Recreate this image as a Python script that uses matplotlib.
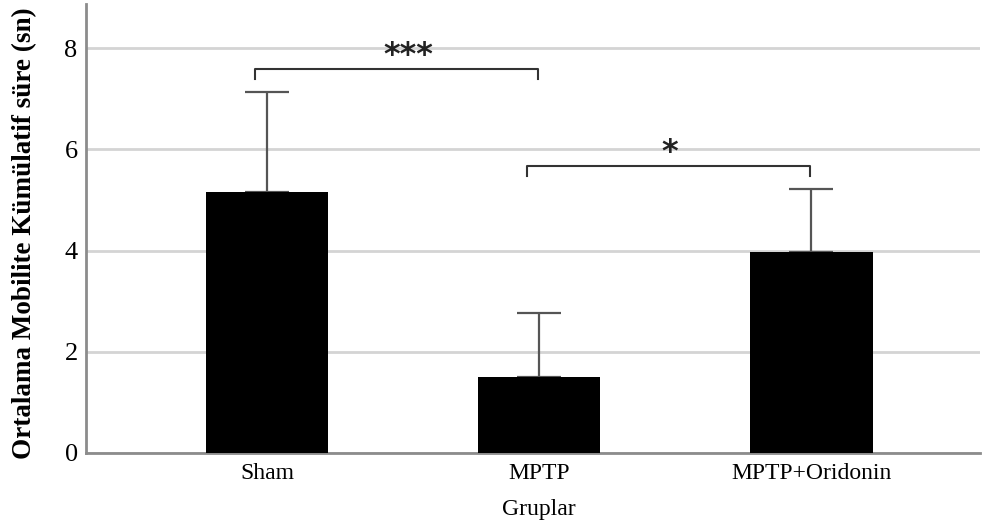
import matplotlib
matplotlib.use("Agg")
from matplotlib import pyplot as plt

groups = ["Sham", "MPTP", "MPTP+Oridonin"]
means = [5.16, 1.50, 3.97]
errors = [1.97, 1.27, 1.25]

# significance brackets: (left group, right group, height, label, label x)
brackets = [(0, 1, 7.59, "***", 0.518), (1, 2, 5.67, "*", 1.478)]

plt.rcParams['font.family'] = ['Liberation Serif', 'DejaVu Serif']

fig = plt.figure(figsize=(9.82, 5.31), dpi=100)
ax = fig.add_axes([0.0876, 0.147, 0.9104, 0.845])

x = list(range(len(groups)))
ax.bar(x, means, width=0.45, color='black', zorder=3)
ax.errorbar(x, means, yerr=[[0] * len(errors), errors], fmt='none', ecolor='#555555',
            elinewidth=1.6, capsize=16, capthick=1.6, zorder=2)

for left, right, h, label, lx in brackets:
    drop = 0.2
    ax.plot([left - 0.045, left - 0.045, right - 0.005, right - 0.005], [h - drop, h, h, h - drop],
            color='#333333', linewidth=1.5, zorder=4)
    ax.text(lx, h - 0.04, label, ha='center', va='bottom',
            fontsize=23, fontweight='bold', family='DejaVu Sans', color='#222222')

ax.set_xlim(-0.665, 2.62)
ax.set_ylim(0, 8.87)
ax.set_yticks([0, 2, 4, 6, 8])
ax.set_xticks(x)
ax.set_xticklabels(groups, fontsize=17)
ax.tick_params(axis='y', labelsize=19, length=0, pad=6)
ax.tick_params(axis='x', length=0, pad=7)
ax.grid(axis='y', color='#d4d4d4', linewidth=2, zorder=0)
ax.set_axisbelow(True)

for side in ['top', 'right']:
    ax.spines[side].set_visible(False)
for side in ['left', 'bottom']:
    ax.spines[side].set_color('#8c8c8c')
    ax.spines[side].set_linewidth(2)

ax.set_xlabel("Gruplar", fontsize=17)
ax.xaxis.set_label_coords(0.506, -0.103)
ax.set_ylabel("Ortalama Mobilite Kümülatif süre (sn)", fontsize=19.5, fontweight='bold')
ax.yaxis.set_label_coords(-0.055, 0.49)

fig.savefig("out.png", dpi=100)
